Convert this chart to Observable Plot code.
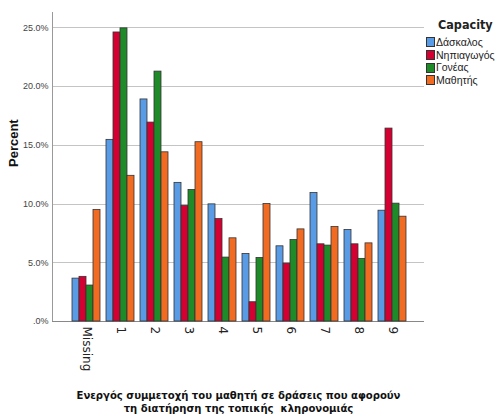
<!DOCTYPE html>
<html><head><meta charset="utf-8">
<script src="https://cdn.jsdelivr.net/npm/d3@7"></script>
<script src="https://cdn.jsdelivr.net/npm/@observablehq/plot@0.6"></script>
<style>
body{margin:0;background:#fff;}
#wrap{position:relative;width:495px;height:416px;overflow:hidden;}
#wrap svg{position:absolute;left:0;top:0;}
#legend{position:absolute;left:426px;top:16px;font-family:"Liberation Sans",sans-serif;font-size:10.5px;color:#222;}
#legend .title{font-family:"DejaVu Sans Condensed","Liberation Sans",sans-serif;font-weight:bold;font-size:12.5px;margin-left:12px;height:20px;line-height:18px;}
#legend .item{height:12.7px;line-height:12.7px;display:flex;align-items:center;white-space:nowrap;}
#legend .sw{width:7px;height:8px;border:1px solid #333;margin-right:1px;}
</style></head><body><div id="wrap"></div>
<script>
const categories = ["Missing","1","2","3","4","5","6","7","8","9"];
const capacities = ["Δάσκαλος","Νηπιαγωγός","Γονέας","Μαθητής"];
const colors = ["#5A9BE6","#D50032","#1F8A28","#F26B22"];
const dascalos   = [3.65, 15.46, 18.9, 11.8, 9.97, 5.75, 6.4, 10.93, 7.79, 9.43];
const nipiagogos = [3.8, 24.6, 16.93, 9.85, 8.72, 1.64, 4.93, 6.57, 6.57, 16.42];
const goneas     = [3.06, 24.95, 21.27, 11.2, 5.44, 5.41, 6.94, 6.46, 5.33, 10.03];
const mathitis   = [9.5, 12.4, 14.4, 15.26, 7.08, 10.0, 7.84, 8.04, 6.65, 8.92];
const yTicks = [0, 5, 10, 15, 20, 25];
const yLabel = "Percent";
const xTitle = ["Ενεργός συμμετοχή του μαθητή σε δράσεις που αφορούν", "τη διατήρηση της τοπικής  κληρονομιάς"];
const legendTitle = "Capacity";

const series = [dascalos, nipiagogos, goneas, mathitis];
const data = categories.flatMap((c, i) => capacities.map((k, j) => ({category: c, capacity: k, value: series[j][i]})));

const common = {width: 495, height: 416, marginLeft: 52, marginRight: 71, marginTop: 12, marginBottom: 95};
const yDomain = [0, 26.3];
const fmt = d => d === 0 ? ".0%" : d.toFixed(1) + "%";
const condensed = "'DejaVu Sans Condensed', 'Liberation Sans', sans-serif";

const bg = Plot.plot({
  ...common,
  style: {fontFamily: "Liberation Sans", fontSize: "9px", color: "#444", background: "transparent"},
  x: {domain: [0, 1], axis: null},
  y: {domain: yDomain, axis: null},
  marks: [
    Plot.ruleY(yTicks.filter(d => d > 0), {stroke: "#c4c4c4", strokeWidth: 1, shapeRendering: "crispEdges"}),
    Plot.axisY(yTicks, {tickSize: 0, tickPadding: 4, tickFormat: fmt, label: null, fill: "#444"}),
    Plot.ruleX([0], {stroke: "#999", shapeRendering: "crispEdges"}),
    Plot.ruleY([0], {stroke: "#888", shapeRendering: "crispEdges"}),
    Plot.text([yLabel], {frameAnchor: "left", dx: -39, rotate: -90, fontWeight: "bold", fontSize: 13, fill: "#111", fontFamily: "Liberation Sans"}),
    Plot.text([xTitle.join("\n")], {frameAnchor: "bottom", dy: 80, lineAnchor: "middle", lineHeight: 1.13, fontWeight: "bold", fontSize: 11.2, fill: "#111", fontFamily: condensed})
  ]
});

const fg = Plot.plot({
  ...common,
  style: {fontFamily: "DejaVu Sans", fontSize: "12px", color: "#222", background: "transparent"},
  facet: {marginTop: 0, marginBottom: 0, marginLeft: 0, marginRight: 0},
  fx: {domain: categories, paddingInner: 0.18, paddingOuter: 0, insetLeft: 19, insetRight: 18, axis: null, label: null},
  x: {domain: capacities, padding: 0, axis: null},
  y: {domain: yDomain, axis: null},
  color: {domain: capacities, range: colors},
  marks: [
    Plot.barY(data, {fx: "category", x: "capacity", y: "value", fill: "capacity", stroke: "#333", strokeWidth: 0.8}),
    Plot.axisFx({anchor: "bottom", tickRotate: 90, tickSize: 0, tickPadding: 5, label: null, fill: "#222"})
  ]
});

const wrap = document.getElementById("wrap");
wrap.appendChild(bg);
wrap.appendChild(fg);

const legend = document.createElement("div");
legend.id = "legend";
const colorScale = fg.scale("color");
legend.innerHTML = `<div class="title">${legendTitle}</div>` +
  colorScale.domain.map((k, i) => `<div class="item"><span class="sw" style="background:${colorScale.range[i]}"></span>${k}</div>`).join("");
wrap.appendChild(legend);
</script>
</body></html>
